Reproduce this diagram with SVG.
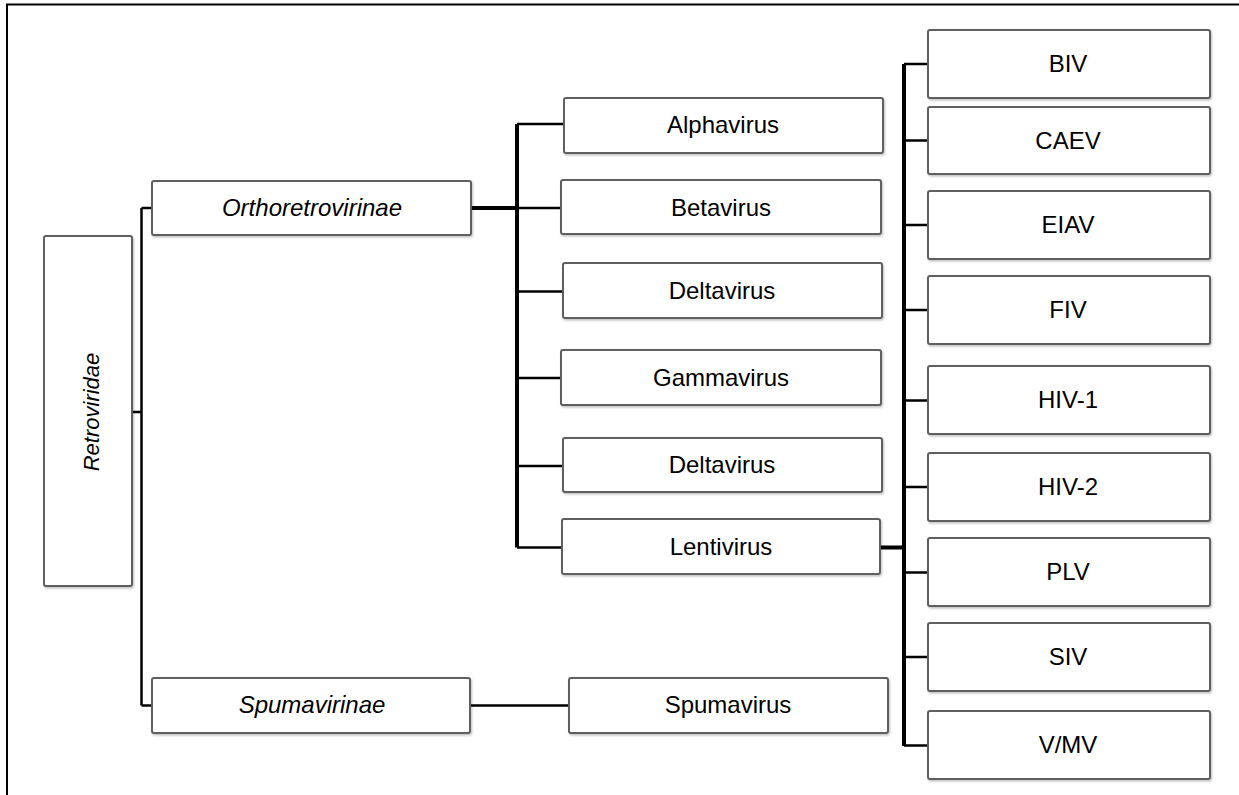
<svg xmlns="http://www.w3.org/2000/svg" width="1239" height="795" viewBox="0 0 1239 795">
<defs>
<filter id="sh" x="-5%" y="-5%" width="110%" height="120%">
<feDropShadow dx="1" dy="1.5" stdDeviation="1" flood-color="#000" flood-opacity="0.25"/>
</filter>
</defs>
<style>
.box{fill:#fff;stroke:#5f5f5f;stroke-width:2;filter:url(#sh)}
.t{font-family:"Liberation Sans",Arial,sans-serif;font-size:24px;fill:#000;text-anchor:middle}
.i{font-style:italic}
.thick{stroke:#000;stroke-width:4;fill:none}
.thin{stroke:#000;stroke-width:2.5;fill:none}
.frame{stroke:#000;stroke-width:2;fill:none}
</style>
<rect width="1239" height="795" fill="#fff"/>
<path class="frame" d="M7,795 V4.5 H1239"/>
<g id="connectors">
<path class="thin" d="M141.5,208 V705.5"/>
<path class="thin" d="M132,412 H141.5 M141.5,208 H152 M141.5,705.5 H152"/>
<path class="thick" d="M471,208 H517"/>
<path class="thick" d="M517,124 V547.5"/>
<path class="thin" d="M517,124 H564 M517,208 H561 M517,291.5 H563 M517,378 H561 M517,466 H563 M517,547.5 H562"/>
<path class="thick" d="M880,547.5 H904"/>
<path class="thick" d="M904,64 V746"/>
<path class="thin" d="M904,64 H928 M904,140.5 H928 M904,225 H928 M904,310 H928 M904,400.5 H928 M904,487 H928 M904,572.5 H928 M904,657 H928 M904,745.5 H928"/>
<path class="thin" d="M470,705.5 H569"/>
</g>
<g id="retroviridae"><rect class="box" x="44" y="236" width="88" height="350" rx="2"/><text class="t i" font-size="22" transform="translate(99,412) rotate(-90)" style="font-size:22px">Retroviridae</text></g>
<g id="orthoretrovirinae"><rect class="box" x="152" y="181" width="319" height="54" rx="2"/><text class="t i" x="312" y="216">Orthoretrovirinae</text></g>
<g id="spumavirinae"><rect class="box" x="152" y="678" width="318" height="55" rx="2"/><text class="t i" x="312" y="713">Spumavirinae</text></g>
<g id="alphavirus"><rect class="box" x="564" y="98" width="319" height="55" rx="2"/><text class="t" x="723" y="133">Alphavirus</text></g>
<g id="betavirus"><rect class="box" x="561" y="180" width="320" height="54" rx="2"/><text class="t" x="721" y="216">Betavirus</text></g>
<g id="deltavirus1"><rect class="box" x="563" y="263" width="319" height="55" rx="2"/><text class="t" x="722" y="299">Deltavirus</text></g>
<g id="gammavirus"><rect class="box" x="561" y="350" width="320" height="55" rx="2"/><text class="t" x="721" y="386">Gammavirus</text></g>
<g id="deltavirus2"><rect class="box" x="563" y="438" width="319" height="54" rx="2"/><text class="t" x="722" y="473">Deltavirus</text></g>
<g id="lentivirus"><rect class="box" x="562" y="519" width="318" height="55" rx="2"/><text class="t" x="721" y="555">Lentivirus</text></g>
<g id="spumavirus"><rect class="box" x="569" y="678" width="319" height="55" rx="2"/><text class="t" x="728" y="713">Spumavirus</text></g>
<g id="biv"><rect class="box" x="928" y="30" width="282" height="68" rx="2"/><text class="t" x="1068" y="72">BIV</text></g>
<g id="caev"><rect class="box" x="928" y="107" width="282" height="67" rx="2"/><text class="t" x="1068" y="149">CAEV</text></g>
<g id="eiav"><rect class="box" x="928" y="191" width="282" height="68" rx="2"/><text class="t" x="1068" y="233">EIAV</text></g>
<g id="fiv"><rect class="box" x="928" y="276" width="282" height="68" rx="2"/><text class="t" x="1068" y="318">FIV</text></g>
<g id="hiv1"><rect class="box" x="928" y="366" width="282" height="68" rx="2"/><text class="t" x="1068" y="408">HIV-1</text></g>
<g id="hiv2"><rect class="box" x="928" y="453" width="282" height="68" rx="2"/><text class="t" x="1068" y="495">HIV-2</text></g>
<g id="plv"><rect class="box" x="928" y="538" width="282" height="68" rx="2"/><text class="t" x="1068" y="580">PLV</text></g>
<g id="siv"><rect class="box" x="928" y="623" width="282" height="68" rx="2"/><text class="t" x="1068" y="665">SIV</text></g>
<g id="vmv"><rect class="box" x="928" y="711" width="282" height="68" rx="2"/><text class="t" x="1068" y="753">V/MV</text></g>
</svg>
